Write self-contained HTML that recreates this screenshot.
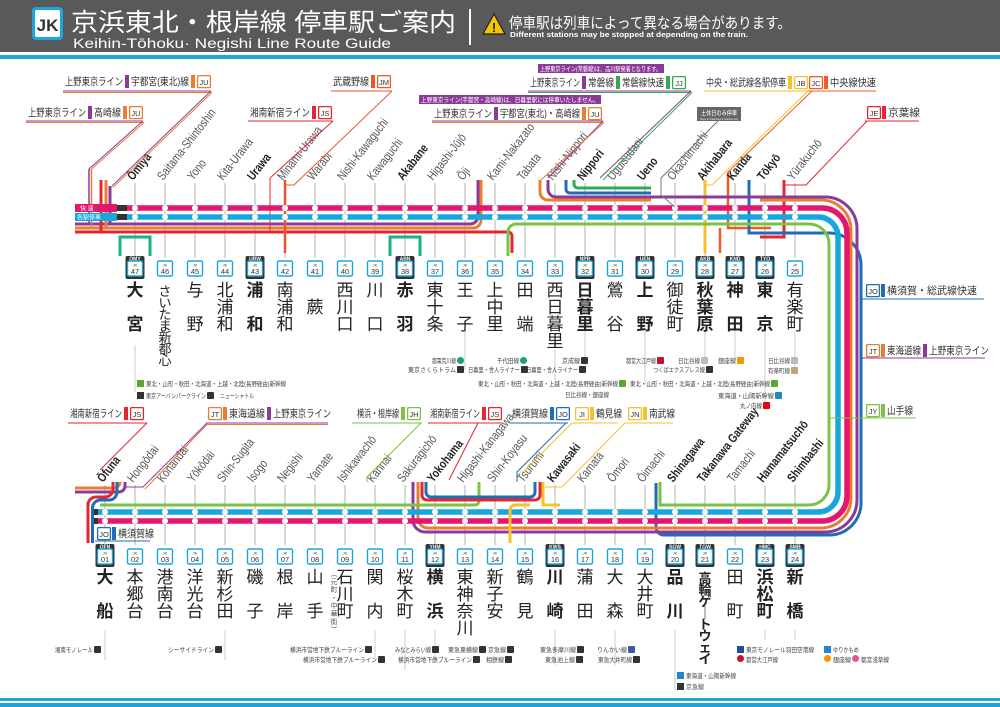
<!DOCTYPE html>
<html><head><meta charset="utf-8">
<style>
html,body{margin:0;padding:0;background:#fff;}
svg{display:block;font-family:"Liberation Sans","Noto Sans CJK JP",sans-serif;}
</style></head>
<body>
<svg id="m" width="1000" height="707" viewBox="0 0 1000 707" xmlns="http://www.w3.org/2000/svg">
<rect x="0" y="0" width="1000" height="52" fill="#595959"/>
<rect x="0" y="55" width="1000" height="4" fill="#1ea6dc"/>
<rect x="32" y="7" width="31" height="33" rx="4" fill="#1ea6dc"/>
<rect x="35" y="10" width="25" height="27" rx="2" fill="#fff"/>
<text x="47.5" y="31" font-size="17" font-weight="bold" fill="#333" text-anchor="middle">JK</text>
<text x="71" y="31" font-size="25" fill="#fff" textLength="385" lengthAdjust="spacingAndGlyphs">京浜東北・根岸線 停車駅ご案内</text>
<text x="73" y="48" font-size="13.5" fill="#fff" textLength="318" lengthAdjust="spacingAndGlyphs">Keihin-Tōhoku· Negishi Line Route Guide</text>
<rect x="469" y="9" width="2" height="36" fill="#fff"/>
<polygon points="494,14 505,34 483,34" fill="#f5c400" stroke="#222" stroke-width="1.2"/>
<text x="494" y="32" font-size="13" font-weight="bold" fill="#222" text-anchor="middle">!</text>
<text x="509" y="28" font-size="15" fill="#fff" textLength="282" lengthAdjust="spacingAndGlyphs">停車駅は列車によって異なる場合があります。</text>
<text x="510" y="37" font-size="7" font-weight="bold" fill="#fff" textLength="238" lengthAdjust="spacingAndGlyphs">Different stations may be stopped at depending on the train.</text>
<rect x="0" y="698" width="1000" height="3" fill="#1ea6dc"/>
<rect x="0" y="703" width="1000" height="4" fill="#1ea6dc"/>
<g id="g"></g>
</svg>
<script>
(function(){
var S=[];function a(s){S.push(s)}
var C={pk:'#e4176f',bl:'#18a7dd',pu:'#8b3a97',or:'#ea7d32',rd:'#e3262f',gr:'#1daf87',yg:'#7cc243',nv:'#1f6db6',ye:'#f6c22c',jm:'#e8562a',jj:'#35a853',jc:'#f15a22'};
function P(d,c,w){a('<path d="'+d+'" fill="none" stroke="'+c+'" stroke-width="'+(w||3)+'"/>')}
function T(x,y,s,fs,o){o=o||{};a('<text x="'+x+'" y="'+y+'" font-size="'+fs+'" fill="'+(o.c||'#333')+'"'+(o.a?' text-anchor="'+o.a+'"':'')+(o.b?' font-weight="bold"':'')+(o.w?' textLength="'+o.w+'" lengthAdjust="spacingAndGlyphs"':'')+'>'+s+'</text>')}
var TOPS=[['Ōmiya','大宮','OMY'],['Saitama-Shintoshin','さいたま新都心'],['Yono','与野'],['Kita-Urawa','北浦和'],['Urawa','浦和','URW'],['Minami-Urawa','南浦和'],['Warabi','蕨'],['Nishi-Kawaguchi','西川口'],['Kawaguchi','川口'],['Akabane','赤羽','ABN'],['Higashi-Jūjō','東十条'],['Ōji','王子'],['Kami-Nakazato','上中里'],['Tabata','田端'],['Nishi-Nippori','西日暮里'],['Nippori','日暮里','NPR'],['Uguisudani','鶯谷'],['Ueno','上野','UEN'],['Okachimachi','御徒町'],['Akihabara','秋葉原','AKB'],['Kanda','神田','KND'],['Tōkyō','東京','TYO'],['Yūrakuchō','有楽町']];
var BOTS=[['Ōfuna','大船','OFN'],['Hongōdai','本郷台'],['Kōnandai','港南台'],['Yōkōdai','洋光台'],['Shin-Sugita','新杉田'],['Isogo','磯子'],['Negishi','根岸'],['Yamate','山手'],['Ishikawachō','石川町'],['Kannai','関内'],['Sakuragichō','桜木町'],['Yokohama','横浜','YHM'],['Higashi-Kanagawa','東神奈川'],['Shin-Koyasu','新子安'],['Tsurumi','鶴見'],['Kawasaki','川崎','KWS'],['Kamata','蒲田'],['Ōmori','大森'],['Ōimachi','大井町'],['Shinagawa','品川','SGW'],['Takanawa Gateway','高輪ゲ｜トウェイ','TGW'],['Tamachi','田町'],['Hamamatsuchō','浜松町','HMC'],['Shimbashi','新橋','SMB']];
TOPS.forEach(function(s,i){var x=135+30*i;P('M'+x+',183V258','#d8d8d8',2)});
BOTS.forEach(function(s,i){var x=105+30*i;P('M'+x+',485V545','#d8d8d8',2)});
[[135,345,392],[465,330,370],[555,350,380],[585,330,365],[645,330,385],[765,330,410],[705,330,360],[735,330,360],[795,330,370]].forEach(function(v){P('M'+v[0]+','+v[1]+'V'+v[2],'#ccc',1)});
[[105,630,660],[225,630,660],[375,630,660],[405,630,670],[435,630,660],[555,630,665],[615,630,665],[675,630,690],[765,630,640],[795,630,640]].forEach(function(v){P('M'+v[0]+','+v[1]+'V'+v[2],'#ccc',1)});
P('M75,224H470A8,8 0 0 0 478,216V180',C.pu);
P('M75,228H473A8,8 0 0 0 481,220V180',C.or);
P('M75,232H508A4,4 0 0 1 512,236V253',C.rd);
P('M89,169V224',C.pu,1.5);P('M91.5,169V228',C.or,1.5);
P('M101,180V232',C.rd);P('M106,180V228',C.or);P('M110,186V224',C.pu);
P('M285,180V253',C.jm,2.5);P('M270,178V232',C.rd,1);
P('M120,256V237H150V256',C.gr);P('M390,256V237H420V256',C.gr);
P('M540,180V192A8,8 0 0 0 548,200H651',C.or);
P('M566,180V189A4,4 0 0 0 570,193H651',C.nv);
P('M574,180V184A4,4 0 0 0 578,188H651',C.jj);
P('M705,180V253',C.ye);
P('M728,172V228H771',C.jc,2.5);P('M720,228V253',C.jc,2.5);
P('M784,180V237H760',C.rd);
P('M656,483V527A8,8 0 0 0 664,535H829A32,32 0 0 0 861,503V265A32,32 0 0 0 829,233H749V180',C.nv);
P('M413,482V520A12,12 0 0 0 425,532H825A32,32 0 0 0 857,500V229A32,32 0 0 0 825,197H556A8,8 0 0 1 548,189V180',C.pu);
P('M418,482V518A10,10 0 0 0 428,528H821A30,30 0 0 0 851,498V230A30,30 0 0 0 821,200H760',C.or);
P('M660,482V505H809A20,20 0 0 0 829,485V244A20,20 0 0 0 809,224H516A8,8 0 0 0 508,232V256',C.yg);
P('M97,512H818A20,20 0 0 0 838,492V237A20,20 0 0 0 818,217H127',C.bl,5.5);
P('M97,521H822A25,25 0 0 0 847,496V233A25,25 0 0 0 822,208H127',C.pk,5.5);
P('M75,488H114A6,6 0 0 0 120,482',C.or);
P('M75,492H119A6,6 0 0 0 125,486V482',C.pu);
P('M88,543V505A8,8 0 0 1 96,497H105A8,8 0 0 0 113,489V482',C.rd);
P('M92.5,543V508A8,8 0 0 1 100,500H109A8,8 0 0 0 117,492V482',C.nv);
P('M100,505H475A4,4 0 0 0 479,501V482',C.yg);
P('M422,482V495A5,5 0 0 0 427,500H535A5,5 0 0 0 540,495V482',C.rd);
P('M426,482V492A5,5 0 0 0 431,497H530A5,5 0 0 0 535,492V482',C.nv);
P('M510,543V510A5,5 0 0 1 515,505H530',C.ye);P('M543,482V505H560',C.ye);
a('<rect x="117" y="205" width="10" height="6" fill="#333"/><rect x="117" y="214" width="10" height="6" fill="#333"/>');
a('<rect x="94" y="509" width="4" height="6" fill="#333"/><rect x="94" y="518" width="4" height="6" fill="#333"/>');
a('<rect x="75" y="204" width="42" height="8" fill="'+C.pk+'"/><rect x="75" y="213" width="42" height="8" fill="'+C.bl+'"/>');
T(80,210.5,'快 速',6,{c:'#fff'});T(77,219.5,'各駅停車',6,{c:'#fff'});
function st(s,i,x,yl,yb,yk,num,bottom){
 var maj=!!s[2];
 a('<circle cx="'+x+'" cy="'+(bottom?521:208)+'" r="3" fill="#fff"/><circle cx="'+x+'" cy="'+(bottom?512:217)+'" r="3" fill="#fff"/>');
 a('<text transform="translate('+(x-2)+','+yl+') rotate(-52) scale(0.8,1)" font-size="12.5" fill="'+(maj?'#222':'#555')+'"'+(maj?' font-weight="bold"':'')+'>'+s[0]+'</text>');
 var n=('0'+num).slice(-2);
 if(maj){a('<rect x="'+(x-9.5)+'" y="'+(yb-5)+'" width="19" height="23" rx="2" fill="#333"/>');T(x,yb-0.5,s[2],5,{c:'#fff',a:'middle',b:1});}
 a('<rect x="'+(x-7.5)+'" y="'+yb+'" width="15" height="15" rx="1.5" fill="#fff" stroke="'+C.bl+'" stroke-width="1.4"/>');
 T(x,yb+5.5,'JK',4,{a:'middle',c:'#444'});T(x,yb+13,n,7.5,{a:'middle',c:'#333'});
 var ch=Array.from(s[1]),L=ch.length,step=L>=7?11.5:17,fs=L>=7?13:17;
 var slots=L==1?[1]:L==2?[0,2]:ch.map(function(c,j){return j});
 ch.forEach(function(c,j){a('<text x="'+x+'" y="'+(yk+slots[j]*step)+'" font-size="'+fs+'" text-anchor="middle" fill="#222"'+(maj?' font-weight="bold"':'')+'>'+c+'</text>')});
}
TOPS.forEach(function(s,i){st(s,i,135+30*i,181,261,296,47-i,false)});
BOTS.forEach(function(s,i){st(s,i,105+30*i,483,549,583,i+1,true)});
Array.from('︵元町・中華街︶').forEach(function(c,j){T(334,576+j*8,c,7,{a:'middle',c:'#555'})});
function L(x,y,it){var cx=x;it.forEach(function(v){
 if(v[0]=='t'){T(cx,y+10,v[1],10.5,{w:v[2],c:'#333'});cx+=v[2]+2;}
 else if(v[0]=='b'){a('<rect x="'+cx+'" y="'+y+'" width="4" height="13" fill="'+v[1]+'"/>');cx+=6;}
 else {a('<rect x="'+(cx+0.6)+'" y="'+(y+0.6)+'" width="12.8" height="12" rx="1" fill="#fff" stroke="'+v[2]+'" stroke-width="1.3"/>');T(cx+7,y+10,v[1],7.5,{a:'middle',c:'#333'});cx+=15;}
});return cx}
function U(x1,x2,y,c){P('M'+x1+','+y+'H'+x2,c,1)}
function D(d,c){P(d,c,1)}
L(65,75,[['t','上野東京ライン',58],['b',C.pu],['t','宇都宮(東北)線',58],['b',C.or],['c','JU',C.or]]);U(63,211,91,C.pu);U(63,211,92.5,C.or);
D('M211,91L112,186',C.pu);D('M212,92.5L113,187.5',C.or);
L(28,106,[['t','上野東京ライン',58],['b',C.pu],['t','高崎線',27],['b',C.or],['c','JU',C.or]]);U(26,143,121,C.pu);U(26,143,122.5,C.or);
D('M143,121L89,169',C.pu);D('M144,122.5L91.5,169',C.or);
L(333,75,[['t','武蔵野線',36],['b',C.jm],['c','JM',C.jm]]);U(331,392,91,C.jm);D('M392,91L294,185H285',C.jm);
L(250,106,[['t','湘南新宿ライン',60],['b',C.rd],['c','JS',C.rd]]);U(248,333,121,C.rd);D('M333,121L270,178',C.rd);
a('<rect x="538" y="64" width="126" height="9" fill="'+C.pu+'"/>');T(540,71,'上野東京ライン(常磐線)は、品川駅発着となります。',6.5,{c:'#fff',w:121});
L(530,76,[['t','上野東京ライン',50],['b',C.pu],['t','常磐線',26],['b',C.jj],['t','常磐線快速',42],['b',C.jj],['c','JJ',C.jj]]);U(528,691,91,C.pu);U(528,691,92.5,C.jj);
D('M691,91L600,178',C.pu);D('M692,92.5L603,180',C.jj);
a('<rect x="419" y="95" width="182" height="9" fill="'+C.pu+'"/>');T(421,102,'上野東京ライン(宇都宮・高崎線)は、日暮里駅には停車いたしません。',6.5,{c:'#fff',w:178});
L(434,107,[['t','上野東京ライン',58],['b',C.pu],['t','宇都宮(東北)・高崎線',80],['b',C.or],['c','JU',C.or]]);U(432,603,121,C.pu);U(432,603,122.5,C.or);
D('M603,121L548,178',C.pu);D('M604,122.5L541,180',C.or);
L(706,76,[['t','中央・総武線各駅停車',80],['b',C.ye],['c','JB',C.ye]]);U(704,808,91,C.ye);
L(809,76,[['c','JC',C.jc],['b',C.jc],['t','中央線快速',46]]);U(808,876,91,C.jc);
D('M808,91L712,185H705',C.ye);D('M812,91L728,172',C.jc);
a('<rect x="697" y="107" width="44" height="14" fill="#666"/>');T(701,115,'土休日のみ停車',6.5,{c:'#fff',w:36});T(700,120,'Stops on Saturdays &amp; holidays only',3,{c:'#eee',w:38});
D('M718,121L661,178V195L675,207','#777');
L(867,106,[['c','JE',C.rd],['b',C.rd],['t','京葉線',32]]);U(865,919,121,C.rd);D('M867,121L806,185H784',C.rd);
L(866,284,[['c','JO',C.nv],['b',C.nv],['t','横須賀・総武線快速',90]]);U(862,984,299,C.nv);
L(866,344,[['c','JT',C.or],['b',C.or],['t','東海道線',34],['b',C.pu],['t','上野東京ライン',60]]);U(862,985,358,C.pu);
L(866,404,[['c','JY',C.yg],['b',C.yg],['t','山手線',26]]);U(829,916,418,C.yg);
L(70,407,[['t','湘南新宿ライン',52],['b',C.rd],['c','JS',C.rd]]);U(68,147,423,C.rd);D('M147,423L100,470',C.rd);
L(208,407,[['c','JT',C.or],['b',C.or],['t','東海道線',36],['b',C.pu],['t','上野東京ライン',58]]);U(206,328,423,C.pu);U(206,328,424.5,C.or);
D('M207,423L143,487H125',C.pu);D('M207,424.5L145,489',C.or);
L(357,407,[['t','横浜・根岸線',42],['b',C.yg],['c','JH',C.yg]]);U(352,422,423,C.yg);D('M421,423L367,477V482',C.yg);
L(430,407,[['t','湘南新宿ライン',50],['b',C.rd],['c','JS',C.rd]]);U(428,502,423,C.rd);D('M478,423L449,480',C.rd);
L(512,407,[['t','横須賀線',36],['b',C.nv],['c','JO',C.nv]]);U(510,568,423,C.nv);D('M566,423L517,472V482',C.nv);
L(575,407,[['c','JI',C.ye],['b',C.ye],['t','鶴見線',26]]);U(572,618,423,C.ye);D('M572,423L522,473',C.ye);
L(628,407,[['c','JN',C.ye],['b',C.ye],['t','南武線',26]]);U(625,673,423,C.ye);D('M625,423L562,487H545',C.ye);
L(97,527,[['c','JO',C.nv],['b',C.nv],['t','横須賀線',36]]);U(95,150,541,C.nv);
function I(x,y,s,w,ic){T(x,y,s,6.5,{w:w,c:'#444'});if(ic)a('<rect x="'+(x+w+1)+'" y="'+(y-6)+'" width="7" height="7" rx="'+(ic=='c'?3.5:1)+'" fill="'+(ic=='c'?'#1a9f76':ic)+'"/>');}
I(432,363,'都電荒川線',24,'c');I(408,372,'東京さくらトラム',48,'#333');
I(497,363,'千代田線',22,'c');I(468,372,'日暮里・舎人ライナー',52,'#333');
I(562,363,'京成線',18,'#333');I(526,372,'日暮里・舎人ライナー',52,'#333');
I(626,363,'都営大江戸線',30,'#c8102e');I(678,363,'日比谷線',22,'#bbb');I(718,363,'銀座線',18,'#f39700');
I(768,363,'日比谷線',22,'#bbb');I(768,373,'有楽町線',22,'#c1a470');I(653,372,'つくばエクスプレス線',52,'#333');
I(146,386,'東北・山形・秋田・北海道・上越・北陸(長野経由)新幹線',140);a('<rect x="137" y="380" width="7" height="7" fill="#5aa832"/>');
I(146,398,'東京アーバンパークライン',60,'#333');I(220,398,'ニューシャトル',34);a('<rect x="137" y="392" width="7" height="7" fill="#333"/>');
I(478,386,'東北・山形・秋田・北海道・上越・北陸(長野経由)新幹線',140,'#5aa832');I(630,386,'東北・山形・秋田・北海道・上越・北陸(長野経由)新幹線',140,'#5aa832');
I(565,397,'日比谷線・銀座線',44);I(718,398,'東海道・山陽新幹線',56,'#1e88c8');I(740,408,'丸ノ内線',22,'#e60012');
I(55,652,'湘南モノレール',38,'#333');I(168,652,'シーサイドライン',46,'#333');
I(290,652,'横浜市営地下鉄ブルーライン',74,'#333');I(303,662,'横浜市営地下鉄ブルーライン',74,'#333');
I(395,652,'みなとみらい線',36,'#333');I(448,652,'東急東横線',30,'#333');I(488,652,'京急線',18,'#333');
I(398,662,'横浜市営地下鉄ブルーライン',74,'#333');I(486,662,'相鉄線',18,'#333');
I(540,652,'東急多摩川線',36,'#333');I(545,662,'東急池上線',30,'#333');
I(597,652,'りんかい線',30,'#3a5ba0');I(598,662,'東急大井町線',34,'#333');
a('<rect x="677" y="672" width="7" height="7" fill="#1e88c8"/><rect x="677" y="683" width="7" height="7" fill="#333"/>');I(686,678,'東海道・山陽新幹線',50);I(686,689,'京急線',18);
a('<rect x="737" y="646" width="7" height="7" fill="#1f4e9e"/><circle cx="740.5" cy="658.5" r="3.5" fill="#c8102e"/>');I(746,652,'東京モノレール羽田空港線',68);I(746,662,'都営大江戸線',32);
a('<rect x="824" y="646" width="7" height="7" fill="#1e88c8"/><circle cx="827.5" cy="658.5" r="3.5" fill="#f39700"/><circle cx="855.5" cy="658.5" r="3.5" fill="#e85298"/>');I(833,652,'ゆりかもめ',26);I(833,662,'銀座線',18);I(861,662,'都営浅草線',28);
var g=document.getElementById('g');
var doc=new DOMParser().parseFromString('<svg xmlns="http://www.w3.org/2000/svg">'+S.join('')+'</svg>','image/svg+xml');
var kids=doc.documentElement.childNodes;
for(var k=0;k<kids.length;k++){g.appendChild(document.importNode(kids[k],true));}
})();
</script>
</body></html>
